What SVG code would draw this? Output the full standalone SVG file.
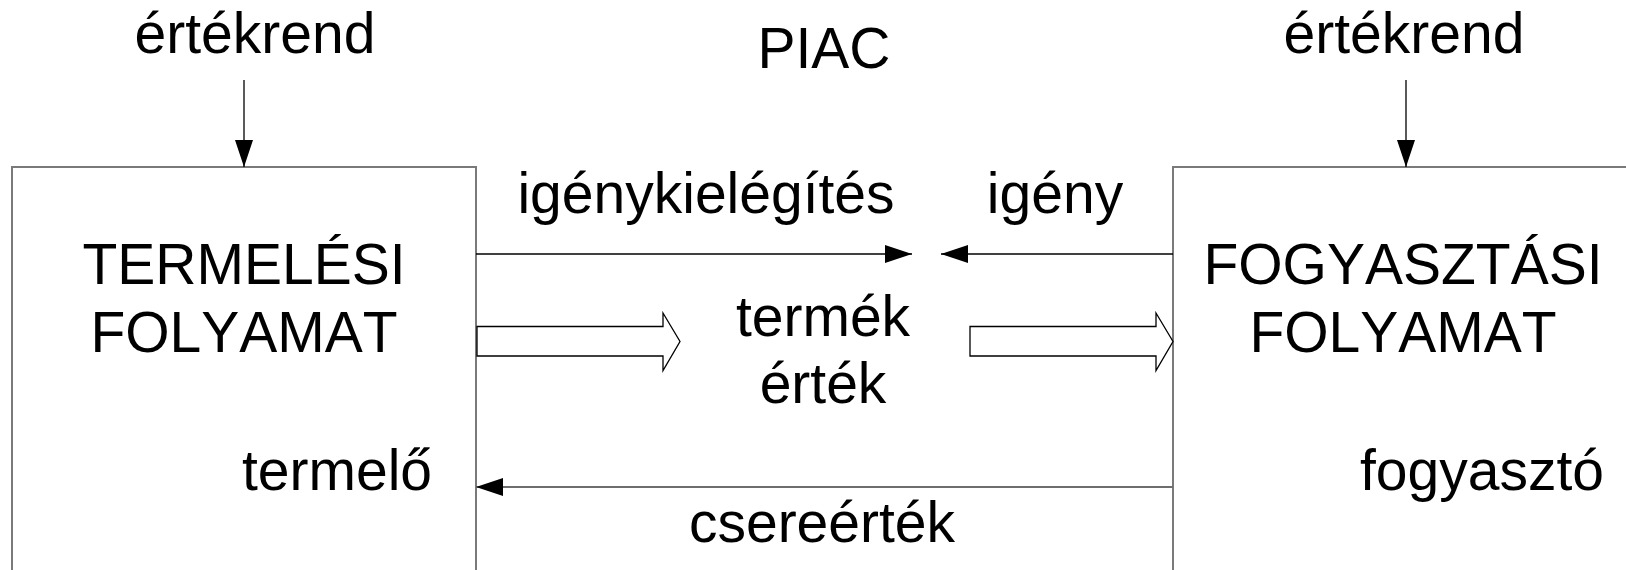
<svg xmlns="http://www.w3.org/2000/svg" width="1626" height="570" viewBox="0 0 1626 570">
<style>
text{font-family:"Liberation Sans",Arial,sans-serif;font-size:57px;fill:#000;font-kerning:none}
.box{fill:#fff;stroke:#7a7a7a;stroke-width:2}
.ln{fill:none;stroke:#000;stroke-width:1.3}
.lg{fill:none;stroke:#6e6e6e;stroke-width:2}
.hollow{fill:#fff;stroke:#000;stroke-width:1.3}
</style>
<defs>
<marker id="ah" markerUnits="userSpaceOnUse" markerWidth="27" markerHeight="18" refX="27" refY="9" orient="auto">
<path d="M0,0 L27,9 L0,18 z" fill="#000"/>
</marker>
</defs>
<rect width="1626" height="570" fill="#fff"/>
<g id="termelesi">
<rect class="box" x="12" y="167" width="464" height="430"/>
<text x="244" y="284" text-anchor="middle">TERMELÉSI</text>
<text x="244" y="352" text-anchor="middle">FOLYAMAT</text>
<text x="242" y="490">termelő</text>
</g>
<g id="fogyasztasi">
<rect class="box" x="1173" y="167" width="480" height="430"/>
<text x="1403" y="284" text-anchor="middle">FOGYASZTÁSI</text>
<text x="1403" y="352" text-anchor="middle">FOLYAMAT</text>
<text x="1360" y="490">fogyasztó</text>
</g>
<g id="labels">
<text x="255" y="53" text-anchor="middle">értékrend</text>
<text x="1404" y="53" text-anchor="middle">értékrend</text>
<text x="824" y="68" text-anchor="middle">PIAC</text>
<text x="706" y="213" text-anchor="middle">igénykielégítés</text>
<text x="1055" y="213" text-anchor="middle">igény</text>
<text x="823" y="336" text-anchor="middle">termék</text>
<text x="823" y="403" text-anchor="middle">érték</text>
<text x="822" y="542" text-anchor="middle">csereérték</text>
</g>
<g id="connectors">
<line class="ln" x1="244" y1="80" x2="244" y2="167" marker-end="url(#ah)"/>
<line class="ln" x1="1406" y1="80" x2="1406" y2="167" marker-end="url(#ah)"/>
<line class="ln" x1="476" y1="254" x2="912" y2="254" marker-end="url(#ah)"/>
<line class="ln" x1="1173" y1="254" x2="941" y2="254" marker-end="url(#ah)"/>
<line class="lg" x1="1173" y1="487" x2="476" y2="487" marker-end="url(#ah)"/>
<polygon class="hollow" points="477,326.5 663,326.5 663,313 680,341.5 663,370.5 663,356 477,356"/>
<polygon class="hollow" points="970,326.5 1156,326.5 1156,313 1173,341.5 1156,370.5 1156,356 970,356"/>
</g>
</svg>
